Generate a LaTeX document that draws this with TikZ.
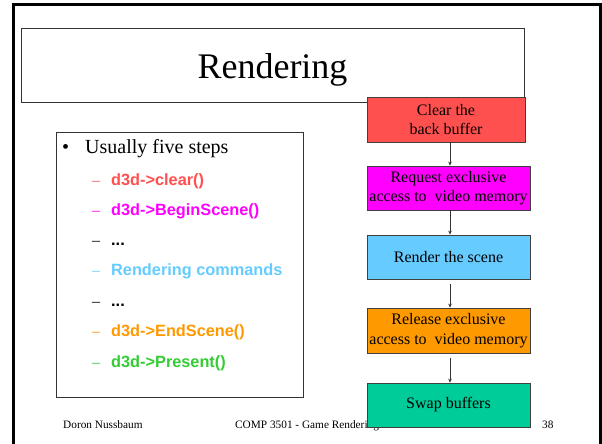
\documentclass[tikz,border=0pt]{standalone}
\usepackage{fontspec}
\setmainfont{Liberation Serif}
\setsansfont{Liberation Sans}
\usetikzlibrary{arrows.meta}
\definecolor{cred}{HTML}{FF5050}
\definecolor{cmag}{HTML}{FF00FF}
\definecolor{cblue}{HTML}{66CCFF}
\definecolor{corange}{HTML}{FF9900}
\definecolor{cgreen}{HTML}{00CC99}
\definecolor{cgreentext}{HTML}{33CC33}
\begin{document}
\begin{tikzpicture}[x=1pt,y=-1pt,
 stepbox/.style={draw=black!75, line width=0.8pt, rectangle, inner sep=0pt, align=center, font=\fontsize{16}{19.5}\selectfont},
 arr/.style={draw=black!80, line width=0.6pt, -{Stealth[length=4pt,width=3.5pt]}},
 item/.style={anchor=base west, inner sep=0pt, font=\sffamily\bfseries\fontsize{16.3}{19}\selectfont},
 dashmark/.style={anchor=base west, inner sep=0pt, font=\fontsize{16}{19}\selectfont},
 foot/.style={anchor=base west, inner sep=0pt, font=\fontsize{11.3}{13}\selectfont}]
\useasboundingbox (0,0) rectangle (602,444);
\fill[white] (0,0) rectangle (602,444);
% outer frame
\draw[line width=2.4pt] (13.5,450) -- (13.5,4.5) -- (600.5,4.5) -- (600.5,450);
% title
\node[draw=black!80, line width=0.8pt, minimum width=503pt, minimum height=74pt, inner sep=0pt] (titlebox) at (272.5,65) {};
\node[anchor=base, inner sep=0pt, font=\fontsize{36}{40}\selectfont] (title) at (272.5,78) {Rendering};
% list box
\node[draw=black!80, line width=1pt, minimum width=247pt, minimum height=265pt, inner sep=0pt] (listbox) at (179.5,264.5) {};
\node[anchor=base west, inner sep=0pt, font=\fontsize{20}{24}\selectfont] (bullet) at (62,153) {\textbullet};
\node[anchor=base west, inner sep=0pt, font=\fontsize{20}{24}\selectfont] (head) at (85,153) {Usually five steps};
\node[dashmark, text=cred] (d1) at (92,185) {–};
\node[item, text=cred] (i1) at (111,185) {d3d->clear()};
\node[dashmark, text=cmag] (d2) at (92,215) {–};
\node[item, text=cmag] (i2) at (111,215) {d3d->BeginScene()};
\node[dashmark] (d3) at (92,245) {–};
\node[item] (i3) at (111,245) {...};
\node[dashmark, text=cblue] (d4) at (92,275) {–};
\node[item, text=cblue] (i4) at (111,275) {Rendering commands};
\node[dashmark] (d5) at (92,306) {–};
\node[item] (i5) at (111,306) {...};
\node[dashmark, text=corange] (d6) at (92,336) {–};
\node[item, text=corange] (i6) at (111,336) {d3d->EndScene()};
\node[dashmark, text=cgreentext] (d7) at (92,367) {–};
\node[item, text=cgreentext] (i7) at (111,367) {d3d->Present()};
% footer
\node[foot] (author) at (63,428) {Doron Nussbaum};
\node[foot] (course) at (235,428) {COMP 3501 - Game Rendering};
\node[foot] (page) at (542,428) {38};
% flow boxes
\node[stepbox, fill=cred, minimum width=158pt, minimum height=45pt] (clear) at (446,119.5) {Clear the\\ back buffer};
\node[stepbox, fill=cmag, minimum width=163pt, minimum height=44pt] (req) at (448.5,188) {Request exclusive\\access to~ video memory};
\node[stepbox, fill=cblue, minimum width=163pt, minimum height=44pt] (render) at (448.5,257) {Render the scene};
\node[stepbox, fill=corange, minimum width=163pt, minimum height=45pt] (rel) at (448.5,330.5) {Release exclusive\\access to~ video memory};
\node[stepbox, fill=cgreen, minimum width=163pt, minimum height=44pt] (swap) at (448.5,405) {Swap buffers};
\coordinate (ax) at (450,0);
\draw[arr] (clear.south -| ax) -- (req.north -| ax);
\draw[arr] (req.south -| ax) -- (render.north -| ax);
\draw[arr, shorten <=5pt] (render.south -| ax) -- (rel.north -| ax);
\draw[arr, shorten <=5pt] (rel.south -| ax) -- (swap.north -| ax);
\end{tikzpicture}
\end{document}
